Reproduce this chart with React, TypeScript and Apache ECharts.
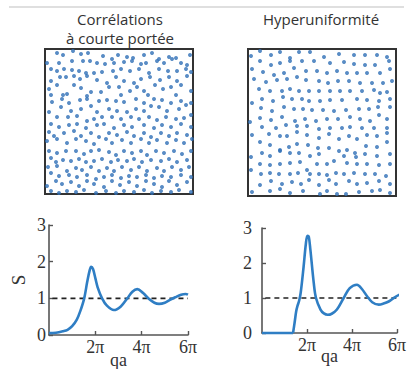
import React, { useEffect, useRef } from "react";
import * as echarts from "echarts";

// Dot pattern, short-range correlations (box coords: x 0..148 from left, y 0..145 from top)
const shortRangeDots: number[][] = [
  [12,4],[18,6],[28,2],[36,5],[43,4],[58,7],[67,10],[73,6],[82,8],[88,9],[99,6],[107,4],[114,10],[124,8],[131,9],[145,6],
  [2,14],[14,14],[27,12],[38,12],[45,12],[52,14],[60,15],[69,14],[79,13],[87,12],[96,15],[101,14],[112,12],[119,14],[127,10],[136,14],[142,16],
  [6,20],[12,22],[19,20],[27,21],[34,22],[41,24],[49,24],[57,23],[68,22],[76,20],[85,22],[94,20],[104,24],[114,20],[123,22],[132,22],[141,20],[146,23],
  [6,32],[15,28],[21,28],[29,27],[35,30],[42,27],[52,31],[62,34],[71,28],[79,32],[89,34],[96,30],[105,28],[115,31],[124,28],[132,32],[142,27],
  [4,40],[12,36],[22,45],[29,36],[36,39],[46,43],[56,43],[64,38],[74,38],[85,42],[92,38],[99,42],[110,36],[118,40],[126,38],[136,36],[146,42],
  [6,46],[18,46],[42,47],[76,46],[103,46],[131,46],
  [7,53],[17,50],[24,54],[35,51],[42,50],[54,52],[62,51],[71,52],[79,53],[91,50],[99,54],[109,50],[117,51],[126,54],[136,52],[146,54],
  [4,63],[16,58],[26,62],[36,60],[46,57],[52,63],[64,60],[72,62],[82,63],[91,60],[99,62],[106,57],[114,58],[122,62],[134,60],[141,56],
  [12,68],[23,68],[32,67],[42,72],[49,70],[57,68],[67,68],[76,70],[86,68],[94,70],[104,68],[112,71],[121,68],[131,70],[139,69],[146,66],
  [6,75],[14,78],[24,76],[32,75],[41,79],[52,76],[59,75],[69,79],[79,76],[87,78],[99,76],[109,79],[117,76],[126,78],[136,75],[146,78],
  [4,83],[9,87],[19,84],[29,82],[36,87],[46,84],[54,88],[64,84],[72,86],[82,83],[89,87],[99,84],[106,88],[116,84],[124,87],[132,84],[142,86],
  [2,92],[12,90],[22,94],[31,90],[41,92],[49,95],[61,90],[67,94],[77,91],[86,94],[96,90],[104,94],[112,91],[122,94],[131,91],[139,94],[147,90],
  [4,102],[12,104],[21,102],[31,102],[39,105],[46,102],[54,101],[64,103],[71,106],[79,102],[87,104],[96,102],[102,106],[111,102],[119,104],[129,102],[137,105],[146,102],
  [6,109],[11,113],[18,111],[26,112],[34,110],[41,113],[49,112],[57,110],[66,113],[73,111],[82,112],[89,110],[97,113],[106,111],[116,112],[124,110],[132,113],[142,111],
  [3,118],[12,117],[22,122],[31,119],[37,121],[46,118],[54,122],[62,119],[69,122],[77,118],[86,121],[94,118],[102,122],[112,119],[119,122],[127,118],[136,121],[144,118],
  [6,124],[14,127],[24,126],[32,128],[42,126],[51,130],[59,128],[67,126],[76,129],[84,127],[92,128],[101,126],[109,129],[117,127],[126,128],[136,126],[146,128],
  [2,137],[11,132],[17,135],[26,133],[34,137],[42,132],[49,135],[59,138],[67,132],[75,136],[84,133],[92,137],[101,132],[109,135],[117,138],[124,132],[132,136],[142,133],
  [6,142],[14,144],[22,142],[31,143],[39,141],[51,144],[61,142],[71,144],[79,142],[89,143],[99,141],[107,144],[116,142],[126,143],[134,141],[146,143],
];

// Dot pattern, hyperuniform (box coords: x 0..148, y 0..147 from top)
const hyperuniformDots: number[][] = [
  [3,7],[12,2],[23,6],[32,3],[42,9],[51,3],[62,3],[91,5],[106,6],[117,6],[129,6],[139,8],
  [12,12],[23,16],[32,14],[42,12],[54,12],[66,12],[76,8],[82,14],[96,13],[106,15],[117,16],[127,16],[141,12],
  [4,20],[15,23],[26,26],[36,24],[46,19],[58,22],[69,22],[79,24],[89,22],[99,24],[109,24],[119,24],[132,24],[142,20],
  [6,30],[18,33],[29,31],[39,30],[49,28],[58,31],[71,32],[80,34],[90,32],[101,32],[112,34],[124,34],[135,34],[144,32],
  [11,40],[22,42],[34,42],[42,40],[51,42],[61,42],[71,42],[82,42],[92,42],[102,42],[114,42],[126,41],[132,44],[139,43],
  [14,50],[25,52],[35,48],[44,50],[54,50],[61,52],[72,52],[82,51],[94,51],[109,50],[119,51],[131,52],[142,50],
  [4,54],[13,59],[24,62],[36,58],[46,60],[55,60],[64,61],[75,61],[86,62],[98,61],[111,60],[121,60],[130,58],[142,58],
  [2,73],[12,69],[23,71],[34,68],[47,72],[57,70],[68,72],[79,70],[90,70],[102,68],[112,70],[122,72],[131,66],[139,70],
  [14,78],[28,79],[38,76],[49,77],[59,77],[71,80],[82,79],[94,79],[102,78],[114,79],[126,79],[139,79],
  [4,86],[21,85],[32,87],[39,87],[49,83],[59,86],[71,89],[81,85],[91,90],[101,87],[109,90],[119,86],[129,87],[139,84],
  [12,93],[22,96],[32,101],[41,98],[49,95],[60,96],[70,99],[81,99],[91,102],[99,101],[107,104],[118,97],[129,98],[139,93],
  [3,108],[14,104],[22,107],[32,102],[42,104],[51,104],[62,107],[71,105],[86,112],[96,107],[108,108],[117,105],[129,107],[142,105],
  [3,121],[12,115],[22,116],[32,115],[42,114],[52,113],[59,121],[69,115],[79,115],[88,124],[99,114],[109,115],[119,115],[131,116],[142,115],
  [13,125],[22,124],[31,125],[42,125],[50,124],[62,125],[71,125],[79,126],[96,125],[106,124],[117,125],[127,125],[138,127],
  [12,136],[23,132],[34,135],[44,133],[53,135],[61,131],[71,136],[81,131],[88,135],[101,132],[109,135],[119,134],[131,132],[142,135],
  [4,143],[22,142],[32,140],[42,144],[55,142],[72,145],[79,142],[89,145],[98,145],[111,143],[124,142],[132,141],[142,144],
];

// Structure factor S(qa); qa in units of π
const shortRangeS: number[][] = [
  [0,0.05],[0.3,0.06],[0.6,0.1],[0.8,0.14],[1.0,0.24],[1.2,0.42],[1.35,0.65],[1.52,1.0],[1.65,1.45],[1.75,1.75],
  [1.82,1.86],[1.9,1.8],[2.0,1.55],[2.1,1.3],[2.29,1.0],[2.5,0.8],[2.8,0.68],[3.1,0.78],[3.38,1.0],[3.6,1.18],
  [3.81,1.25],[4.05,1.15],[4.32,0.98],[4.55,0.88],[4.75,0.85],[5.0,0.88],[5.2,0.95],[5.45,1.03],[5.7,1.1],[5.9,1.12],[6.0,1.1],
];
const hyperFlatS: number[][] = [[0,0],[1.38,0]];
const hyperS: number[][] = [
  [1.38,0],[1.45,0.3],[1.52,0.62],[1.58,0.78],[1.65,0.92],[1.72,1.15],[1.85,1.9],[1.95,2.55],[2.02,2.78],[2.08,2.75],
  [2.15,2.38],[2.3,1.43],[2.4,1.0],[2.6,0.67],[2.75,0.56],[2.92,0.52],[3.1,0.55],[3.33,0.67],[3.63,1.0],[3.9,1.28],
  [4.22,1.38],[4.45,1.25],[4.67,1.05],[4.9,0.88],[5.19,0.81],[5.4,0.84],[5.63,0.9],[5.9,1.02],[6.15,1.11],
];
const referenceLevel: number[][] = [[0.15,1],[6,1]];
const xTicks = [2, 4, 6];
const yTicks = [0, 1, 2, 3];

const titleLeftLine1 = "Corrélations";
const titleLeftLine2 = "à courte portée";
const titleRight = "Hyperuniformité";

export default function App() {
  const ref = useRef<HTMLDivElement>(null);
  useEffect(() => {
    if (!ref.current) return;
    const chart = echarts.init(ref.current, undefined, { renderer: "svg" });
    const serif = "'Liberation Serif', 'Times New Roman', 'DejaVu Serif', serif";
    const sans = "'Open Sans', 'Noto Sans', sans-serif";
    const axisColor = "#555";
    const blue = "#2f7ec4";
    const dotColor = "#2f6fb6";
    const titleStyle = { fontFamily: sans, fontSize: 15, fontWeight: "normal", color: "#333", lineHeight: 16 };
    const squareAxis = (max: number, inverse = false) => ({
      type: "value", min: 0, max, show: false, inverse,
    });
    const plotX = (grid: number, nameGap: number) => ({
      type: "value", gridIndex: grid, min: 0, max: 6, interval: 2,
      name: "qa", nameLocation: "middle", nameGap, nameMoveOverlap: false,
      nameTextStyle: { fontFamily: serif, fontSize: 18, color: "#333", verticalAlign: "top" },
      axisLine: { show: true, lineStyle: { color: axisColor, width: 1.6 } },
      axisTick: { show: true, inside: true, length: 4, lineStyle: { color: axisColor, width: 1.4 },
        customValues: xTicks },
      axisLabel: { fontFamily: serif, fontSize: 18, color: "#333", margin: 3,
        customValues: xTicks, formatter: (v: number) => (v === 0 ? "" : v + "π") },
      splitLine: { show: false },
    });
    const plotY = (grid: number, withName: boolean, margin: number) => ({
      type: "value", gridIndex: grid, min: 0, max: 3, interval: 1,
      name: withName ? "S" : "", nameLocation: "middle", nameGap: 21, nameRotate: 90, nameMoveOverlap: false,
      nameTextStyle: { fontFamily: serif, fontSize: 19, color: "#333" },
      axisLine: { show: true, lineStyle: { color: axisColor, width: 1.6 } },
      axisTick: { show: true, inside: true, length: 4, lineStyle: { color: axisColor, width: 1.4 } },
      axisLabel: { fontFamily: serif, fontSize: 18, color: "#333", margin,
        customValues: yTicks },
      splitLine: { show: false },
    });
    const curve = (data: number[][], x: number, y: number, smooth: number | boolean) => ({
      type: "line", data, xAxisIndex: x, yAxisIndex: y, showSymbol: false, smooth,
      clip: false, silent: true,
      lineStyle: { color: blue, width: 2.6 },
    });
    const dashed = (x: number, y: number) => ({
      type: "line", data: referenceLevel, xAxisIndex: x, yAxisIndex: y, showSymbol: false,
      silent: true, z: 1,
      lineStyle: { color: "#222", width: 1.6, type: [5, 4] },
    });
    const gridBase = { outerBoundsMode: "none", containLabel: false };
    chart.setOption({
      animation: false,
      backgroundColor: "#fff",
      title: [
        { text: titleLeftLine1, left: 120, top: 11, padding: 0, textAlign: "center", textStyle: titleStyle },
        { text: titleLeftLine2, left: 120, top: 30, padding: 0, textAlign: "center", textStyle: titleStyle },
        { text: titleRight, left: 321, top: 11, padding: 0, textAlign: "center", textStyle: titleStyle },
      ],
      graphic: [
        { type: "line", shape: { x1: 9, y1: 7, x2: 404, y2: 7 }, style: { stroke: "#d4d4d4", lineWidth: 1.5 }, silent: true },
      ],
      grid: [
        { ...gridBase, left: 45, top: 49, width: 148, height: 145, show: true, borderColor: "#333", borderWidth: 2, backgroundColor: "#fff" },
        { ...gridBase, left: 248, top: 49, width: 148, height: 147, show: true, borderColor: "#333", borderWidth: 2, backgroundColor: "#fff" },
        { ...gridBase, left: 49, top: 225, width: 139, height: 110 },
        { ...gridBase, left: 262, top: 228, width: 135, height: 105 },
      ],
      xAxis: [
        { ...squareAxis(148), gridIndex: 0 },
        { ...squareAxis(148), gridIndex: 1 },
        plotX(2, 16),
        plotX(3, 14),
      ],
      yAxis: [
        { ...squareAxis(145, true), gridIndex: 0 },
        { ...squareAxis(147, true), gridIndex: 1 },
        plotY(2, true, 3),
        plotY(3, false, 10),
      ],
      series: [
        { type: "scatter", data: shortRangeDots, xAxisIndex: 0, yAxisIndex: 0, symbolSize: 4,
          itemStyle: { color: dotColor }, silent: true },
        { type: "scatter", data: hyperuniformDots, xAxisIndex: 1, yAxisIndex: 1, symbolSize: 4,
          itemStyle: { color: dotColor }, silent: true },
        dashed(2, 2),
        curve(shortRangeS, 2, 2, 0.35),
        dashed(3, 3),
        curve(hyperFlatS, 3, 3, false),
        curve(hyperS, 3, 3, 0.35),
      ],
    });
    return () => chart.dispose();
  }, []);
  return <div ref={ref} style={{ position: "fixed", left: 0, top: 0, width: 408, height: 369 }} />;
}
